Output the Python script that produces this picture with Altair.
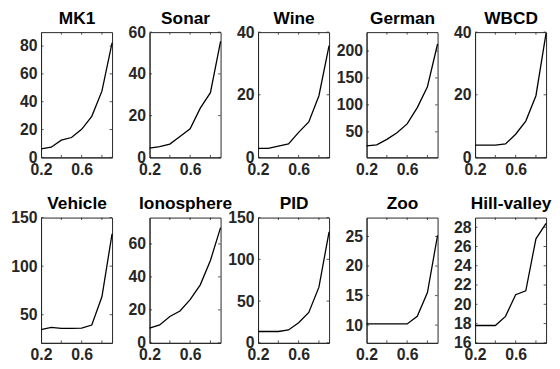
import altair as alt
import pandas as pd

x_vals = [0.2, 0.3, 0.4, 0.5, 0.6, 0.7, 0.8, 0.9]
names = ["MK1", "Sonar", "Wine", "German", "WBCD",
         "Vehicle", "Ionosphere", "PID", "Zoo", "Hill-valley"]

mk1 = [6.1, 7.3, 12.4, 14.3, 20.2, 29.5, 47.6, 82.3]
sonar = [4.4, 5.2, 6.4, 10.0, 13.7, 23.6, 31.0, 55.6]
wine = [2.9, 2.9, 3.6, 4.3, 8.0, 11.3, 19.7, 35.7]
german = [23.9, 25.7, 36.0, 48.2, 64.7, 95.0, 133.6, 213.0]
wbcd = [3.9, 3.9, 3.9, 4.3, 7.4, 11.6, 19.7, 39.7]
vehicle = [34.5, 36.9, 36.0, 36.0, 36.2, 39.3, 68.4, 133.3]
ionosphere = [8.9, 10.9, 16.0, 19.3, 26.2, 35.2, 50.0, 69.9]
pid = [13.6, 13.6, 13.6, 15.5, 24.0, 36.4, 66.7, 133.0]
zoo = [10.2, 10.2, 10.2, 10.2, 10.2, 11.5, 15.5, 25.2]
hill = [17.8, 17.8, 17.8, 18.75, 21.0, 21.4, 26.8, 28.4]

series = [mk1, sonar, wine, german, wbcd, vehicle, ionosphere, pid, zoo, hill]

y_domains = [[0, 90], [0, 60], [0, 40], [2.5, 235], [0, 40],
             [21, 150], [0, 76], [0, 150], [7, 28.2], [16, 29]]
y_ticks = [[0, 20, 40, 60, 80], [0, 20, 40, 60], [0, 20, 40], [50, 100, 150, 200], [0, 20, 40],
           [50, 100, 150], [0, 20, 40, 60], [0, 50, 100, 150], [10, 15, 20, 25],
           [16, 18, 20, 22, 24, 26, 28]]
x_label_ticks = [0.2, 0.6]
x_minor_ticks = [0.4, 0.6, 0.8]

W, H = 72, 127
TL = 2.5
FONT = "Liberation Sans"
AXC = "#262626"


def panel(name, vals, dom, ticks):
    df = pd.DataFrame({"x": x_vals, "y": vals})
    xt = pd.DataFrame({"x": x_minor_ticks})
    yt = pd.DataFrame({"y": ticks})
    xscale = alt.Scale(domain=[0.2, 0.9], nice=False, zero=False)
    X = alt.X("x:Q", scale=xscale,
              axis=alt.Axis(values=x_label_ticks, format=".1f", title=None))
    Xnone = alt.X("x:Q", scale=xscale, axis=None)
    Xtop = alt.X("x:Q", scale=xscale,
                 axis=alt.Axis(orient="top", title=name, labels=False, ticks=False,
                               domain=False, values=x_label_ticks,
                               titleFont=FONT, titleFontSize=17.5, titleFontWeight="bold",
                               titleColor="black", titlePadding=5))
    Y = alt.Y("y:Q", scale=alt.Scale(domain=dom, nice=False, zero=False),
              axis=alt.Axis(values=ticks, format="d", title=None))
    line = alt.Chart(df).mark_line(color="black", strokeWidth=1.3).encode(x=X, y=Y)
    xb = alt.Chart(xt).mark_rule(color=AXC, strokeWidth=0.8).encode(
        x=Xnone, y=alt.value(H), y2=alt.value(H - TL))
    xtop = alt.Chart(xt).mark_rule(color=AXC, strokeWidth=0.8).encode(
        x=Xtop, y=alt.value(0), y2=alt.value(TL))
    yl = alt.Chart(yt).mark_rule(color=AXC, strokeWidth=0.8).encode(
        y=Y, x=alt.value(0), x2=alt.value(TL))
    yr = alt.Chart(yt).mark_rule(color=AXC, strokeWidth=0.8).encode(
        y=Y, x=alt.value(W - TL), x2=alt.value(W))
    return alt.layer(line, xb, xtop, yl, yr).resolve_axis(x="independent").properties(
        width=W, height=H)


charts = [panel(n, v, d, t) for n, v, d, t in zip(names, series, y_domains, y_ticks)]

chart = alt.concat(*charts, columns=5, spacing={"row": 61, "column": 38}, bounds="flush").properties(
    padding={"left": 1.5, "top": -2, "right": 0, "bottom": 0}
).configure_axis(
    grid=False, tickSize=0, domainColor=AXC, domainWidth=1,
    labelFont=FONT, labelFontWeight="bold", labelFontSize=16, labelColor=AXC,
    labelPadding=4, labelFlush=False, labelOverlap=False,
).configure_view(stroke=AXC, strokeWidth=1)

chart.save("out.html", embed_options={"renderer": "svg", "actions": False})
